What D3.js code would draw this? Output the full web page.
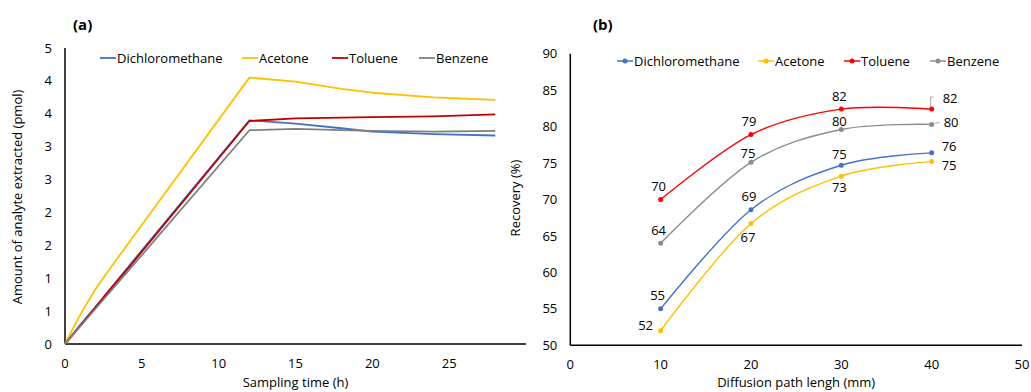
<!DOCTYPE html>
<html>
<head>
<meta charset="utf-8">
<script src="https://cdn.jsdelivr.net/npm/d3@7"></script>
<style>
  html, body { margin: 0; padding: 0; background: #fff; }
  svg { display: block; font-family: "Open Sans", sans-serif; }
</style>
</head>
<body>
<svg id="chart" width="1031" height="392"></svg>
<script>
// ---- Panel (a): extraction vs sampling time ----
const seriesNames = ["Dichloromethane", "Acetone", "Toluene", "Benzene"];
const timeHours = [0, 1, 2, 3, 4, 12, 15, 18, 20, 24, 28];
const amountDichloromethane = [0, 0.29, 0.57, 0.85, 1.14, 3.40, 3.35, 3.28, 3.23, 3.19, 3.17];
const amountAcetone = [0, 0.45, 0.84, 1.17, 1.49, 4.05, 3.99, 3.88, 3.82, 3.75, 3.71];
const amountToluene = [0, 0.28, 0.56, 0.85, 1.12, 3.39, 3.43, 3.44, 3.45, 3.46, 3.49];
const amountBenzene = [0, 0.27, 0.54, 0.81, 1.08, 3.25, 3.27, 3.25, 3.24, 3.23, 3.24];
const amountTicks = [0, 0.5, 1, 1.5, 2, 2.5, 3, 3.5, 4, 4.5];
const timeTicks = [0, 5, 10, 15, 20, 25];

// ---- Panel (b): recovery vs diffusion path length ----
const pathLength = [10, 20, 30, 40];
const recoveryDichloromethane = [55.0, 68.6, 74.7, 76.4];
const recoveryAcetone = [52.0, 66.7, 73.2, 75.2];
const recoveryToluene = [70.0, 78.9, 82.4, 82.4];
const recoveryBenzene = [64.0, 75.1, 79.6, 80.3];
const recoveryTicks = [50, 55, 60, 65, 70, 75, 80, 85, 90];
const pathTicks = [0, 10, 20, 30, 40, 50];

const colorsA = ["#4472C4", "#FFC000", "#C00000", "#7F7F7F"];
const colorsB = ["#4472C4", "#FFC000", "#FF0000", "#8C8C8C"];

// label placement for panel (b), one entry per point: [dx, dy] from the marker
const labelOffsets = [
  [[-3, -13], [-2, -13], [-2, -11], [10, -6]],
  [[-15, -5], [-3, 14], [-2, 11], [10, 4]],
  [[-2, -13], [-2, -13], [-2, -13], [11, -11]],
  [[-2, -13], [-3, -9], [-2, -8], [12, -2]]
];

const svg = d3.select("#chart");
const fontSize = 13;

function drawPanel(opts) {
  const g = svg.append("g");
  const x = d3.scaleLinear().domain(opts.xDomain).range(opts.xRange);
  const y = d3.scaleLinear().domain(opts.yDomain).range(opts.yRange);

  // axis lines
  g.append("line").attr("x1", x(opts.xDomain[0])).attr("x2", x(opts.xDomain[0]))
    .attr("y1", y(opts.yDomain[0])).attr("y2", y(opts.yDomain[1]))
    .attr("stroke", "#000").attr("stroke-width", 1.5);
  g.append("line").attr("x1", x(opts.xDomain[0])).attr("x2", x(opts.xDomain[1]))
    .attr("y1", y(opts.yDomain[0])).attr("y2", y(opts.yDomain[0]))
    .attr("stroke", "#000").attr("stroke-width", 1.5);

  // y tick labels
  g.selectAll(".ytick").data(opts.yTicks).join("text")
    .attr("x", x(opts.xDomain[0]) - 13)
    .attr("y", d => y(d))
    .attr("dy", "0.35em")
    .attr("text-anchor", "end")
    .attr("font-size", fontSize)
    .attr("fill", "#000")
    .text(opts.yFormat);

  // x tick labels
  g.selectAll(".xtick").data(opts.xTicks).join("text")
    .attr("x", d => x(d))
    .attr("y", y(opts.yDomain[0]) + 19)
    .attr("dy", "0.35em")
    .attr("text-anchor", "middle")
    .attr("font-size", fontSize)
    .attr("fill", "#000")
    .text(d => d);

  // axis titles
  g.append("text")
    .attr("x", (x(opts.xDomain[0]) + x(opts.xDomain[1])) / 2 + opts.xTitleShift)
    .attr("y", 382).attr("dy", "0.35em")
    .attr("text-anchor", "middle").attr("font-size", fontSize).attr("fill", "#000")
    .text(opts.xTitle);
  g.append("text")
    .attr("transform", `translate(${opts.yTitleX},${opts.yTitleY}) rotate(-90)`)
    .attr("dy", "0.35em")
    .attr("text-anchor", "middle").attr("font-size", fontSize).attr("fill", "#000")
    .text(opts.yTitle);

  // panel letter
  g.append("text")
    .attr("x", opts.letterX).attr("y", 25).attr("dy", "0.35em")
    .attr("font-size", 15).attr("font-weight", "bold").attr("fill", "#000")
    .text(opts.letter);

  const line = d3.line()
    .x(d => x(d[0])).y(d => y(d[1]))
    .curve(opts.curve);

  opts.series.forEach((vals, i) => {
    const pts = opts.xs.map((xv, j) => [xv, vals[j]]);
    g.append("path").datum(pts)
      .attr("d", line)
      .attr("fill", "none")
      .attr("stroke", opts.colors[i])
      .attr("stroke-width", opts.lineWidth)
      .attr("stroke-linejoin", "round");
    if (opts.markers) {
      g.selectAll(null).data(pts).join("circle")
        .attr("cx", d => x(d[0])).attr("cy", d => y(d[1]))
        .attr("r", 2.5).attr("fill", opts.colors[i]);
    }
    if (opts.labels) {
      g.selectAll(null).data(pts).join("text")
        .attr("x", (d, j) => x(d[0]) + labelOffsets[i][j][0])
        .attr("y", (d, j) => y(d[1]) + labelOffsets[i][j][1])
        .attr("dy", "0.35em")
        .attr("text-anchor", (d, j) => labelOffsets[i][j][0] > 5 ? "start" : "middle")
        .attr("font-size", fontSize).attr("fill", "#000")
        .text(d => d3.format(".0f")(d[1]));
    }
  });

  // legend
  opts.legendX.forEach((lx, i) => {
    const ly = opts.legendY;
    g.append("line").attr("x1", lx).attr("x2", lx + 16).attr("y1", ly).attr("y2", ly)
      .attr("stroke", opts.colors[i]).attr("stroke-width", opts.markers ? 1.5 : 1.8);
    if (opts.markers) {
      g.append("circle").attr("cx", lx + 8).attr("cy", ly).attr("r", 2.5).attr("fill", opts.colors[i]);
    }
    g.append("text").attr("x", lx + 17).attr("y", ly).attr("dy", "0.35em")
      .attr("font-size", fontSize).attr("fill", "#000")
      .text(seriesNames[i]);
  });

  return { g, x, y };
}

// Panel (a): straight segments between sampling times
drawPanel({
  xDomain: [0, 30], xRange: [65, 526],
  yDomain: [0, 4.5], yRange: [344, 48],
  xTicks: timeTicks, yTicks: amountTicks,
  yFormat: d => Math.round(d + 1e-9),
  xs: timeHours,
  series: [amountDichloromethane, amountAcetone, amountToluene, amountBenzene],
  colors: colorsA, lineWidth: 1.8, markers: false, labels: false,
  curve: d3.curveLinear,
  xTitle: "Sampling time (h)", xTitleShift: 0,
  yTitle: "Amount of analyte extracted (pmol)", yTitleX: 17, yTitleY: 197,
  letter: "(a)", letterX: 73,
  legendX: [100, 242, 332, 419], legendY: 58
});

// Panel (b): smoothed lines with markers and value labels
const pb = drawPanel({
  xDomain: [0, 50], xRange: [570.3, 1022],
  yDomain: [50, 90], yRange: [345.3, 53.7],
  xTicks: pathTicks, yTicks: recoveryTicks,
  yFormat: d => d,
  xs: pathLength,
  series: [recoveryDichloromethane, recoveryAcetone, recoveryToluene, recoveryBenzene],
  colors: colorsB, lineWidth: 1.4, markers: true, labels: true,
  curve: d3.curveCardinal.tension(0),
  xTitle: "Diffusion path lengh (mm)", xTitleShift: 0,
  yTitle: "Recovery (%)", yTitleX: 515, yTitleY: 198,
  letter: "(b)", letterX: 593,
  legendX: [617, 758, 844, 930], legendY: 61
});

// leader lines for the labels set off to the right at 40 mm
{
  const { g, x, y } = pb;
  const tx = x(pathLength[3]), ty = y(recoveryToluene[3]);
  g.append("path")
    .attr("d", `M${tx - 1},${ty - 2} V${ty - 12} H${tx + 2}`)
    .attr("fill", "none").attr("stroke", "#A6A6A6").attr("stroke-width", 1);
  const bx = x(pathLength[3]), by = y(recoveryBenzene[3]);
  g.append("path")
    .attr("d", `M${bx + 3},${by - 1} L${bx + 8},${by - 2}`)
    .attr("fill", "none").attr("stroke", "#A6A6A6").attr("stroke-width", 1);
}
</script>
</body>
</html>
